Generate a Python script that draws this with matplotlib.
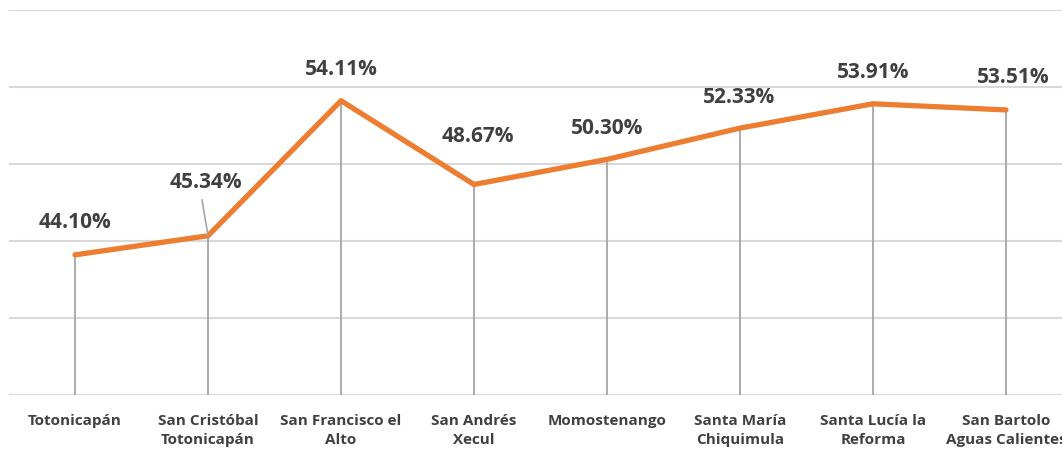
import matplotlib.pyplot as plt

# municipality names and percentages
municipios = ['Totonicapán', 'San Cristóbal\nTotonicapán', 'San Francisco el\nAlto',
              'San Andrés\nXecul', 'Momostenango', 'Santa María\nChiquimula',
              'Santa Lucía la\nReforma', 'San Bartolo\nAguas Calientes']
porcentajes = [44.10, 45.34, 54.11, 48.67, 50.30, 52.33, 53.91, 53.51]
# label offsets (pixels) as placed in the original
label_dx = [0, -2, 0, 4, 0, -1, 0, 7]
label_dy = [32, 53, 31, 48, 31, 31, 31, 32]

plt.rcParams['font.family'] = ['Open Sans', 'DejaVu Sans']

fig = plt.figure(figsize=(10.62, 4.51), dpi=100)
W, H = 1062, 451
left, right, top, bottom = 8.5, 1072.5, 10, 395
ax = fig.add_axes([left / W, 1 - bottom / H, (right - left) / W, (bottom - top) / H])

x = list(range(len(municipios)))
ax.set_xlim(-0.5, len(municipios) - 0.5)
ax.set_ylim(35, 60)

for yv in [35, 40, 45, 50, 55, 60]:
    ax.axhline(yv, color='#D9D9D9', lw=1.5, zorder=0)

ax.vlines(x, 35, porcentajes, color='#A6A6A6', lw=1.3, zorder=1)
ax.plot(x, porcentajes, color='#ED7D31', lw=3.8, solid_capstyle='round', zorder=3)

for i, v in enumerate(porcentajes):
    ax.annotate(f'{v:.2f}%', (i, v), xytext=(label_dx[i] * 0.72, label_dy[i] * 0.72),
                textcoords='offset points', ha='center', va='center',
                fontsize=15, fontweight='bold', color='#404040', zorder=4)

# leader line for the San Cristóbal label
ax.annotate('', xy=(1, porcentajes[1]), xytext=(-6 * 0.72, 36 * 0.72),
            textcoords='offset points',
            arrowprops=dict(arrowstyle='-', color='#A6A6A6', lw=1.2,
                            shrinkA=0, shrinkB=0))

ax.set_xticks(x)
ax.set_xticklabels(municipios, fontsize=11, fontweight='bold', color='#404040',
                   linespacing=1.4)
ax.tick_params(axis='x', length=0, pad=14)
ax.set_yticks([])
for s in ax.spines.values():
    s.set_visible(False)

fig.savefig('out.png', dpi=100)
